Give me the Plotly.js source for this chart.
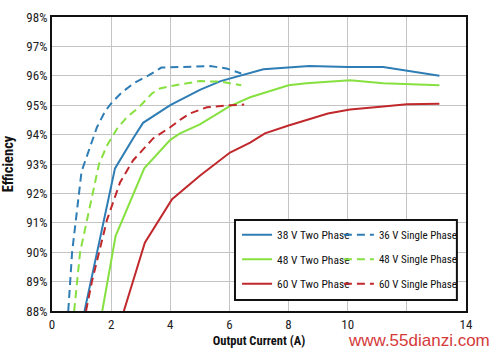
<!DOCTYPE html>
<html>
<head>
<meta charset="utf-8">
<script src="https://cdn.plot.ly/plotly-3.0.1.min.js"></script>
<style>html,body{margin:0;padding:0;background:#fff;}#chart{width:497px;height:352px;}</style>
</head>
<body>
<div id="chart"></div>
<script>
// Data
const seriesNames = ["38 V Two Phase", "36 V Single Phase", "48 V Two Phase", "48 V Single Phase", "60 V Two Phase", "60 V Single Phase"];

const x38Two = [1.1, 2.13, 2.74, 3.08, 4.0, 5.0, 5.7, 6.7, 7.15, 8.7, 10.0, 11.2, 13.1];
const y38Two = [88.0, 92.85, 93.87, 94.4, 95.0, 95.52, 95.82, 96.1, 96.22, 96.33, 96.3, 96.3, 96.0];

const x36Single = [0.55, 0.68, 1.0, 1.29, 1.52, 1.8, 2.03, 2.37, 2.77, 3.28, 3.7, 4.35, 5.35, 5.9, 6.4];
const y36Single = [88.0, 90.0, 92.75, 93.63, 94.25, 94.8, 95.1, 95.44, 95.75, 96.02, 96.28, 96.3, 96.33, 96.25, 96.08];

const x48Two = [1.7, 2.15, 3.12, 4.0, 4.33, 5.0, 6.0, 6.7, 8.0, 8.6, 10.08, 11.2, 13.1];
const y48Two = [88.0, 90.55, 92.85, 93.82, 94.04, 94.35, 94.96, 95.27, 95.68, 95.75, 95.85, 95.75, 95.68];

const x48Single = [0.75, 0.95, 1.59, 1.86, 2.2, 2.54, 2.94, 3.38, 3.65, 4.0, 5.0, 5.7, 6.4];
const y48Single = [88.0, 90.0, 93.0, 93.63, 94.2, 94.6, 94.93, 95.4, 95.57, 95.65, 95.82, 95.8, 95.68];

const x60Two = [2.43, 3.14, 4.06, 5.0, 6.02, 6.7, 7.2, 8.0, 9.33, 10.08, 11.2, 12.0, 13.1];
const y60Two = [88.0, 90.32, 91.8, 92.6, 93.39, 93.73, 94.04, 94.31, 94.72, 94.85, 94.96, 95.03, 95.05];

const x60Single = [1.15, 1.35, 1.86, 2.3, 2.74, 3.42, 4.0, 4.33, 4.67, 5.24, 6.02, 6.5];
const y60Single = [88.0, 89.0, 91.1, 92.37, 93.12, 93.87, 94.25, 94.5, 94.72, 94.93, 95.0, 95.02];

const xTickVals = [0, 2, 4, 6, 8, 10, 12, 14];
const xTickText = ["0", "2", "4", "6", "8", "10", "", "14"];
const yTickVals = [88, 89, 90, 91, 92, 93, 94, 95, 96, 97, 98];
const yTickText = ["88%", "89%", "90%", "91%", "92%", "93%", "94%", "95%", "96%", "97%", "98%"];

const BLUE = "#2f7db5";
const GREEN = "#86e040";
const RED = "#c0282c";
const FONT = '"Roboto Condensed", "DejaVu Sans Condensed", sans-serif';

function tr(x, y, name, color, dashed, legend, group) {
  return {
    x: x, y: y, name: name, type: "scatter", mode: "lines",
    line: {color: color, width: 2, dash: dashed ? "8px,5px" : "solid"},
    legend: legend, legendgroup: group, hoverinfo: "skip"
  };
}

const data = [
  tr(x38Two, y38Two, seriesNames[0], BLUE, false, "legend", "a"),
  tr(x48Two, y48Two, seriesNames[2], GREEN, false, "legend", "b"),
  tr(x60Two, y60Two, seriesNames[4], RED, false, "legend", "c"),
  tr(x36Single, y36Single, seriesNames[1], BLUE, true, "legend2", "d"),
  tr(x48Single, y48Single, seriesNames[3], GREEN, true, "legend2", "e"),
  tr(x60Single, y60Single, seriesNames[5], RED, true, "legend2", "f")
];

const legendCommon = {
  bgcolor: "rgba(0,0,0,0)", borderwidth: 0,
  font: {family: FONT, size: 11.5, color: "#111"},
  tracegroupgap: 5.5, traceorder: "grouped",
  xanchor: "left", yanchor: "top", orientation: "v"
};

const layout = {
  width: 497, height: 352,
  margin: {l: 52, r: 31, t: 17, b: 41},
  paper_bgcolor: "#fff", plot_bgcolor: "#fff",
  font: {family: FONT, size: 12, color: "#111"},
  showlegend: true,
  xaxis: {
    range: [0, 14], tickvals: xTickVals, ticktext: xTickText,
    showgrid: true, gridcolor: "#c4c4c4", gridwidth: 1,
    showline: true, linecolor: "#111", linewidth: 2, mirror: true,
    zeroline: false, ticks: "", ticklen: 0,
    tickfont: {family: FONT, size: 13, color: "#222"},
    title: {text: "<b>Output Current (A)</b>", font: {family: FONT, size: 12.5, color: "#111"}, standoff: 6}
  },
  yaxis: {
    range: [88, 98], tickvals: yTickVals, ticktext: yTickText,
    showgrid: true, gridcolor: "#c4c4c4", gridwidth: 1,
    showline: true, linecolor: "#111", linewidth: 2, mirror: true,
    zeroline: false, ticks: "", ticklen: 0,
    tickfont: {family: FONT, size: 13, color: "#222"},
    title: {text: "<b>Efficiency</b>", font: {family: FONT, size: 14.5, color: "#111"}, standoff: 9}
  },
  legend: Object.assign({}, legendCommon, {x: 0.447, y: 0.309}),
  legend2: Object.assign({}, legendCommon, {x: 0.693, y: 0.309, font: {family: FONT, size: 11, color: "#111"}}),
  shapes: [{
    type: "rect", xref: "paper", yref: "paper", layer: "above",
    x0: 0.442, x1: 0.978, y0: 0.0374, y1: 0.3095,
    line: {color: "#111", width: 2}, fillcolor: "#fff"
  }],
  annotations: [{
    text: "www.55dianzi.com", xref: "paper", yref: "paper",
    x: 1.063, y: -0.102, xanchor: "right", yanchor: "middle", showarrow: false,
    font: {family: '"Liberation Sans", Arial, sans-serif', size: 17, color: "#d43a3a"}
  }]
};

Plotly.newPlot("chart", data, layout, {staticPlot: true, displayModeBar: false});
</script>
</body>
</html>
